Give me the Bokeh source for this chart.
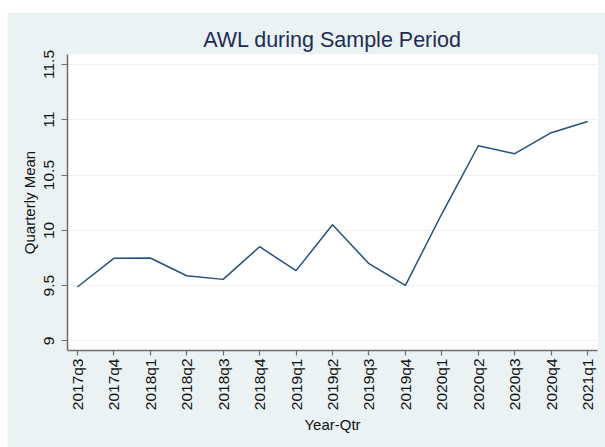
import math
from bokeh.plotting import figure
from bokeh.models import FixedTicker, Range1d, Spacer, ColumnDataSource
from bokeh.layouts import column, row
from bokeh.embed import file_html
from bokeh.resources import INLINE

quarters = ["2017q3", "2017q4", "2018q1", "2018q2", "2018q3", "2018q4",
            "2019q1", "2019q2", "2019q3", "2019q4", "2020q1", "2020q2",
            "2020q3", "2020q4", "2021q1"]
awl_mean = [9.488, 9.747, 9.750, 9.590, 9.557, 9.852, 9.636, 10.051,
            9.699, 9.503, 10.15, 10.765, 10.693, 10.883, 10.985]
y_ticks = [9, 9.5, 10, 10.5, 11, 11.5]
y_tick_labels = ["9", "9.5", "10", "10.5", "11", "11.5"]

BG = "#EAF2F3"
FONT = "Liberation Sans"

x_idx = list(range(len(quarters)))
src = ColumnDataSource(dict(x=x_idx, y=awl_mean))

p = figure(width=598, height=435, output_backend="svg", toolbar_location=None,
           x_range=Range1d(-0.27, len(quarters) - 1 + 0.27),
           y_range=Range1d(8.914, 11.59),
           min_border_left=60, min_border_right=8, min_border_top=42,
           min_border_bottom=97)
p.border_fill_color = BG
p.background_fill_color = "white"
p.outline_line_color = None

p.line("x", "y", source=src, line_color="#23507c", line_width=1.5)

p.title.text = "AWL during Sample Period"
p.title.align = "center"
p.title.text_font = FONT
p.title.text_font_size = "21.5px"
p.title.text_font_style = "normal"
p.title.text_color = "#1e2d53"
p.title.standoff = 6

# x axis
p.xaxis.ticker = FixedTicker(ticks=x_idx)
p.xaxis.major_label_overrides = {i: q for i, q in zip(x_idx, quarters)}
p.xaxis.major_label_orientation = math.pi / 2
p.xaxis.axis_label = "Year-Qtr"
# y axis
p.yaxis.ticker = FixedTicker(ticks=y_ticks)
p.yaxis.major_label_overrides = {t: l for t, l in zip(y_ticks, y_tick_labels)}
p.yaxis.major_label_orientation = "vertical"
p.yaxis.axis_label = "Quarterly Mean"

for ax in (p.xaxis, p.yaxis):
    ax.axis_line_color = "#6e6e6e"
    ax.axis_line_width = 1.5
    ax.major_tick_line_color = "#6e6e6e"
    ax.major_tick_line_width = 1.2
    ax.major_tick_out = 5
    ax.major_tick_in = 0
    ax.minor_tick_out = 0
    ax.minor_tick_in = 0
    ax.major_label_text_font = FONT
    ax.major_label_text_font_size = "15.5px"
    ax.major_label_text_color = "#111111"
    ax.axis_label_text_font = FONT
    ax.axis_label_text_font_size = "15px"
    ax.axis_label_text_font_style = "normal"
    ax.axis_label_text_color = "#111111"
    ax.major_label_standoff = 3

p.yaxis.major_tick_out = 6
p.yaxis.major_label_standoff = 7
p.yaxis.axis_label_standoff = 4
p.xaxis.axis_label_standoff = 3

p.xgrid.grid_line_color = None
p.ygrid.ticker = FixedTicker(ticks=y_ticks)
p.ygrid.grid_line_color = BG
p.ygrid.grid_line_width = 1.2

layout = row(Spacer(width=7, height=447),
             column(Spacer(width=598, height=12), p, spacing=0),
             spacing=0)
open("out.html", "w").write(file_html(layout, INLINE))
